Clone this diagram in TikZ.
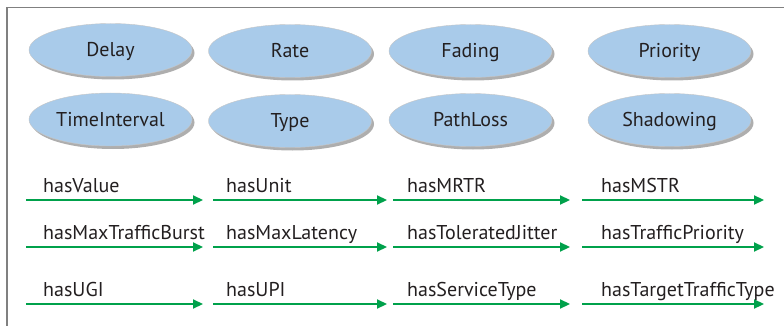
\documentclass[tikz,border=0pt]{standalone}
\usepackage{fontspec}
\setmainfont{PT Sans}
\usetikzlibrary{shapes.geometric,arrows.meta,shadows}
\definecolor{ellblue}{HTML}{A9CBEA}
\definecolor{arrgreen}{HTML}{00A14B}
\definecolor{txt}{HTML}{231F20}
\definecolor{framegray}{HTML}{808080}
\tikzset{
  concept/.style={ellipse, fill=ellblue, draw=gray!45, line width=0.4pt,
    minimum width=163pt, minimum height=53pt, inner sep=0pt,
    text height=14pt, text depth=0pt, text=txt,
    font=\fontsize{20}{24}\selectfont,
    drop shadow={shadow xshift=2.5pt, shadow yshift=-3pt, fill=black!45, opacity=0.7}},
  rel/.style={anchor=base west, inner sep=0pt, text=txt, font=\fontsize{20}{24}\selectfont},
  relarrow/.style={draw=arrgreen, line width=2.2pt, -{Triangle[length=10pt,width=9pt]}}
}
\begin{document}
\begin{tikzpicture}[x=1pt,y=-1pt]
\useasboundingbox (0,0) rectangle (784,326);
\draw[framegray, line width=1.6pt] (7,327) -- (7,7.5) -- (785,7.5);
% concepts
\node[concept] (delay) at (110.5,50) {Delay};
\node[concept] (rate) at (290,51) {Rate};
\node[concept] (fading) at (470.5,51) {Fading};
\node[concept] (priority) at (669.5,51) {Priority};
\node[concept] (timeint) at (110.5,119.5) {TimeInterval};
\node[concept] (type) at (290,121) {Type};
\node[concept] (pathloss) at (470.5,120) {PathLoss};
\node[concept] (shadowing) at (669.5,120) {Shadowing};
% row 1
\coordinate (a1s) at (26,200); \coordinate (a1e) at (203,200);
\coordinate (a2s) at (213,200); \coordinate (a2e) at (387,200);
\coordinate (a3s) at (393,200); \coordinate (a3e) at (570,200);
\coordinate (a4s) at (582,200); \coordinate (a4e) at (764,200);
\draw[relarrow] (a1s) -- (a1e);
\draw[relarrow] (a2s) -- (a2e);
\draw[relarrow] (a3s) -- (a3e);
\draw[relarrow] (a4s) -- (a4e);
\node[rel] (hasValue) at (43,192) {hasValue};
\node[rel] (hasUnit) at (226,192) {hasUnit};
\node[rel] (hasMRTR) at (407,192) {hasMRTR};
\node[rel] (hasMSTR) at (601,192) {hasMSTR};
% row 2
\coordinate (b1s) at (26,247); \coordinate (b1e) at (203,247);
\coordinate (b2s) at (213,247); \coordinate (b2e) at (387,247);
\coordinate (b3s) at (393,247); \coordinate (b3e) at (570,247);
\coordinate (b4s) at (582,247); \coordinate (b4e) at (764,247);
\draw[relarrow] (b1s) -- (b1e);
\draw[relarrow] (b2s) -- (b2e);
\draw[relarrow] (b3s) -- (b3e);
\draw[relarrow] (b4s) -- (b4e);
\node[rel] (hasMaxTrafficBurst) at (43,239) {hasMaxTrafficBurst};
\node[rel] (hasMaxLatency) at (226,239) {hasMaxLatency};
\node[rel] (hasToleratedJitter) at (407,239) {hasToleratedJitter};
\node[rel] (hasTrafficPriority) at (601,239) {hasTrafficPriority};
% row 3
\coordinate (c1s) at (26,304); \coordinate (c1e) at (203,304);
\coordinate (c2s) at (213,304); \coordinate (c2e) at (387,304);
\coordinate (c3s) at (393,304); \coordinate (c3e) at (570,304);
\coordinate (c4s) at (582,304); \coordinate (c4e) at (764,304);
\draw[relarrow] (c1s) -- (c1e);
\draw[relarrow] (c2s) -- (c2e);
\draw[relarrow] (c3s) -- (c3e);
\draw[relarrow] (c4s) -- (c4e);
\node[rel] (hasUGI) at (43,296) {hasUGI};
\node[rel] (hasUPI) at (226,296) {hasUPI};
\node[rel] (hasServiceType) at (407,296) {hasServiceType};
\node[rel] (hasTargetTrafficType) at (601,296) {hasTargetTrafficType};
\end{tikzpicture}
\end{document}
